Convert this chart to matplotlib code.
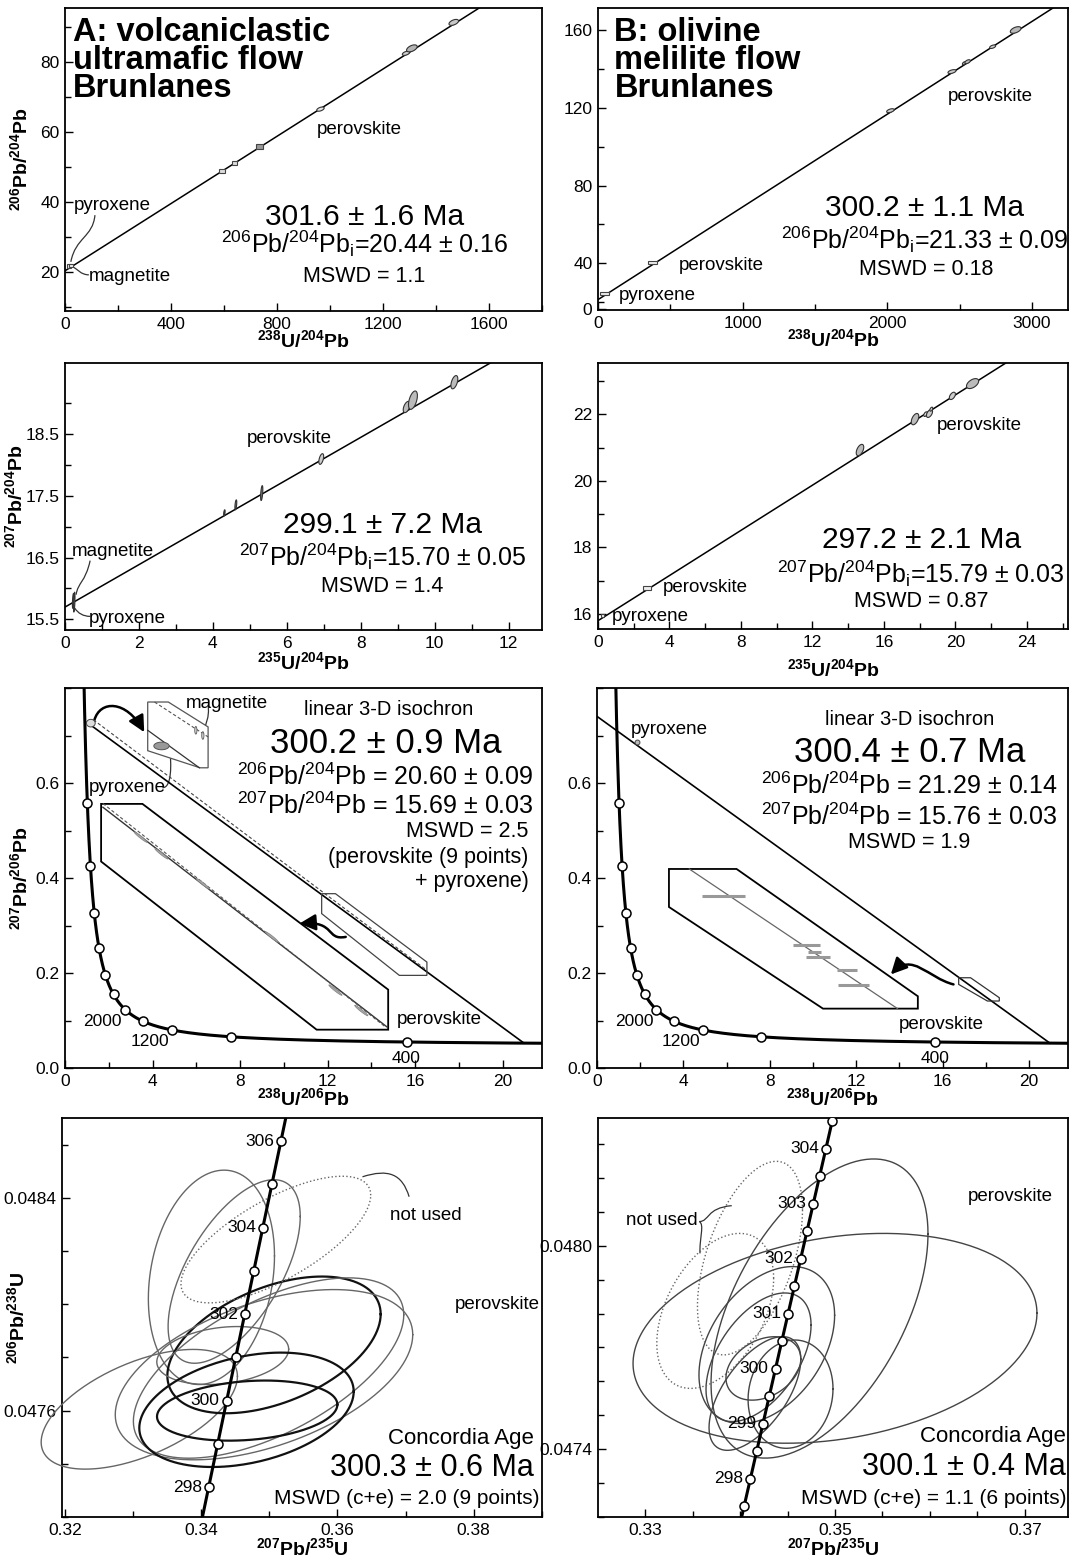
import numpy as np
import matplotlib.pyplot as plt
from matplotlib.patches import Rectangle, PathPatch, FancyArrowPatch, Polygon
from matplotlib.path import Path
from matplotlib.ticker import MultipleLocator, FixedLocator, FormatStrFormatter

plt.rcParams['font.family'] = 'Liberation Sans'
plt.rcParams['mathtext.fontset'] = 'custom'
plt.rcParams['mathtext.rm'] = 'Liberation Sans'
plt.rcParams['mathtext.it'] = 'Liberation Sans:italic'
plt.rcParams['mathtext.bf'] = 'Liberation Sans:bold'
plt.rcParams['mathtext.default'] = 'regular'

# decay constants (1/Ma) and 238U/235U
L238 = 1.55125e-4
L235 = 9.8485e-4
U_RATIO = 137.88

# ---------------- row 1: 206Pb/204Pb vs 238U/204Pb ----------------
a1_age, a1_pb0 = 301.6, 20.44
a1_x = [16, 22, 593, 639, 735, 964, 1287, 1309, 1467]
a1_y = [21.8, 22.0, 49.0, 51.2, 55.8, 66.5, 82.4, 83.8, 91.2]
a1_sx = [8, 8, 10, 10, 13, 14, 14, 20, 18]
a1_sy = [0.45, 0.45, 0.57, 0.57, 0.66, 0.6, 0.6, 1.0, 0.85]
a1_kind = ['box', 'box', 'box', 'box', 'box', 'ell', 'ell', 'ell', 'ell']
a1_fill = ['#eeeeee', '#eeeeee', '#dddddd', '#dddddd', '#999999', '#e4e4e4', '#d0d0d0', '#b4b4b4', '#c8c8c8']

b1_age, b1_pb0 = 300.2, 21.33
b1_x = [44, 377, 2022, 2448, 2532, 2556, 2729, 2888]
b1_y = [24.6, 40.5, 118.5, 138.6, 142.9, 143.7, 151.4, 160.0]
b1_sx = [30, 28, 26, 28, 12, 19, 21, 37]
b1_sy = [0.9, 0.9, 1.0, 1.0, 0.8, 1.0, 0.9, 1.7]
b1_kind = ['box', 'box', 'ell', 'ell', 'ell', 'ell', 'ell', 'ell']
b1_fill = ['#eeeeee', '#eeeeee', '#cccccc', '#cccccc', '#bbbbbb', '#bbbbbb', '#cccccc', '#b8b8b8']

# ---------------- row 2: 207Pb/204Pb vs 235U/204Pb ----------------
a2_age, a2_pb0 = 299.1, 15.70
a2_x = [0.22, 0.25, 4.31, 4.62, 5.32, 6.93, 9.24, 9.41, 10.53]
a2_y = [15.80, 15.78, 17.22, 17.35, 17.54, 18.09, 18.93, 19.04, 19.33]
a2_sx = [0.02, 0.02, 0.02, 0.025, 0.03, 0.065, 0.093, 0.12, 0.093]
a2_sy = [0.12, 0.16, 0.05, 0.08, 0.12, 0.086, 0.091, 0.148, 0.107]
a2_kind = ['ell'] * 9
a2_fill = ['#888888', '#888888', '#444444', '#777777', '#777777', '#cccccc', '#bbbbbb', '#bbbbbb', '#bbbbbb']

b2_age, b2_pb0 = 297.2, 15.79
b2_x = [0.25, 2.73, 14.66, 17.74, 18.33, 18.55, 18.65, 19.83, 20.96]
b2_y = [15.94, 16.77, 20.93, 21.86, 22.01, 22.03, 22.16, 22.56, 22.93]
b2_sx = [0.11, 0.23, 0.21, 0.21, 0.10, 0.17, 0.08, 0.17, 0.34]
b2_sy = [0.05, 0.06, 0.17, 0.17, 0.07, 0.12, 0.06, 0.11, 0.15]
b2_kind = ['box', 'box', 'ell', 'ell', 'ell', 'ell', 'ell', 'ell', 'ell']
b2_fill = ['#eeeeee', '#eeeeee', '#bbbbbb', '#bbbbbb', '#dddddd', '#cccccc', '#dddddd', '#cccccc', '#bbbbbb']

# ---------------- row 3: Tera-Wasserburg 3-D isochrons ----------------
tw_ages = [400, 800, 1200, 1600, 2000, 2400, 2800, 3200, 3600, 4000, 4400]
a3_age, a3_pb64, a3_pb74 = 300.2, 20.60, 15.69
b3_age, b3_pb64, b3_pb74 = 300.4, 21.29, 15.76

a3_pyx = (1.18, 0.726)
a3_dash_x, a3_dash_y = [1.3, 16.5], [0.733, 0.207]
a3_inset_x = [1.65, 3.54, 14.77, 14.77, 11.5, 1.65]
a3_inset_y = [0.556, 0.556, 0.165, 0.0807, 0.0807, 0.4347]
a3_inline_x, a3_inline_y = [1.73, 14.72], [0.549, 0.0863]
a3_indash_x, a3_indash_y = [1.73, 14.6], [0.557, 0.088]
a3_inpts_x = [3.46, 4.41, 6.3, 9.45, 12.36, 13.54]
a3_inpts_y = [0.486, 0.451, 0.388, 0.276, 0.164, 0.121]
a3_box_x = [11.73, 12.36, 16.54, 16.54, 15.28, 11.73]
a3_box_y = [0.367, 0.367, 0.223, 0.195, 0.195, 0.325]
a3_top_x = [3.78, 4.72, 6.54, 6.54, 6.17, 3.78]
a3_top_y = [0.7705, 0.7705, 0.718, 0.632, 0.632, 0.668]
a3_topline_x, a3_topline_y = [3.78, 6.14], [0.711, 0.632]
a3_topdash_x, a3_topdash_y = [4.09, 6.54], [0.7705, 0.697]
a3_pyx_big = (4.41, 0.678)
a3_mag_x, a3_mag_y = [5.98, 6.3], [0.711, 0.700]

b3_pyx = (1.84, 0.687)
b3_inset_x = [3.33, 6.46, 14.85, 14.85, 10.46, 3.33]
b3_inset_y = [0.419, 0.419, 0.151, 0.125, 0.125, 0.339]
b3_inline_x, b3_inline_y = [4.27, 13.91], [0.419, 0.125]
b3_bar_x = [5.84, 9.68, 10.07, 10.23, 11.56, 11.87]
b3_bar_y = [0.363, 0.258, 0.244, 0.234, 0.206, 0.174]
b3_bar_w = [1.0, 0.63, 0.3, 0.55, 0.47, 0.7]
b3_box_x = [16.74, 17.29, 18.62, 18.62, 18.07, 16.74]
b3_box_y = [0.190, 0.190, 0.148, 0.141, 0.141, 0.176]

# ---------------- row 4: Wetherill concordia ----------------
a4_ages = [297, 298, 299, 300, 301, 302, 303, 304, 305, 306, 307]
a4_lab = [298, 300, 302, 304, 306]
a4_cx = [0.34150, 0.34484, 0.33091, 0.35069, 0.34316, 0.34989, 0.34922, 0.34665, 0.34675]
a4_cy = [0.048101, 0.048123, 0.047605, 0.047847, 0.047807, 0.047760, 0.047735, 0.047603, 0.047600]
a4_sx = [0.00926, 0.0097, 0.01441, 0.01566, 0.00968, 0.01985, 0.02184, 0.01574, 0.01324]
a4_sy = [0.000403, 0.000345, 0.000225, 0.000257, 0.000109, 0.000339, 0.00032, 0.000215, 0.000113]
a4_rho = [0.2, 0.6, 0.55, 0.45, 0.22, 0.59, 0.47, 0.32, 0.2]
a4_dark = [False, False, False, True, False, False, False, True, True]
a4_nu = [(0.35096, 0.048243, 0.01393, 0.000238, 0.7)]

b4_ages = [297.5, 298, 298.5, 299, 299.5, 300, 300.5, 301, 301.5, 302, 302.5, 303, 303.5, 304, 304.5, 305]
b4_lab = [298, 299, 300, 301, 302, 303, 304]
b4_cx = [0.35, 0.34837, 0.34282, 0.34195, 0.34246, 0.34157, 0.34532]
b4_cy = [0.047727, 0.047815, 0.047707, 0.047671, 0.047638, 0.047564, 0.047562]
b4_sx = [0.02126, 0.01142, 0.00714, 0.00553, 0.00394, 0.00483, 0.00447]
b4_sy = [0.000310, 0.000442, 0.000232, 0.000190, 0.0000937, 0.000168, 0.00016]
b4_rho = [0.24, 0.5, 0.38, 0.5, 0.3, 0.6, 0.1]
b4_nu = [(0.34105, 0.047964, 0.00553, 0.000286, 0.5),
         (0.33739, 0.047808, 0.00615, 0.000229, 0.42)]


def ell_pts(cx, cy, sx, sy, rho):
    t = np.linspace(0, 2 * np.pi, 241)
    return cx + sx * np.cos(t), cy + sy * (rho * np.cos(t) + np.sqrt(1 - rho ** 2) * np.sin(t))


def curve(ax, pts, lw=0.9, color='#333333', arrow=False):
    codes = [Path.MOVETO, Path.CURVE4, Path.CURVE4, Path.CURVE4]
    p = Path(pts, codes)
    if arrow:
        ax.add_patch(FancyArrowPatch(path=p, arrowstyle='-|>,head_length=0.7,head_width=0.35',
                                     mutation_scale=14, lw=1.8, color='k', clip_on=False))
    else:
        ax.add_patch(PathPatch(p, fc='none', ec=color, lw=lw, clip_on=False))


def style(ax):
    for s in ax.spines.values():
        s.set_linewidth(1.3)
    ax.tick_params(which='both', direction='in', top=False, right=False,
                   labelsize=12.5, width=1, pad=4)
    ax.tick_params(which='major', length=6)
    ax.tick_params(which='minor', length=4)


def isochron(ax, xs, ys, sxs, sys_, kinds, fills, pb0, slope, xmax):
    xx = np.array([0, xmax])
    ax.plot(xx, pb0 + slope * xx, color='k', lw=1.1, zorder=2)
    for x, y, sx, sy, k, f in zip(xs, ys, sxs, sys_, kinds, fills):
        if k == 'box':
            ax.add_patch(Rectangle((x - sx, y - sy), 2 * sx, 2 * sy, fc=f, ec='#444444', lw=0.8, zorder=3))
        else:
            ex, ey = ell_pts(x, y, sx, sy, 0.5)
            ax.fill(ex, ey, fc=f, ec='#333333', lw=0.8, zorder=3)


def tw(t):
    t = np.asarray(t, dtype=float)
    e8 = np.exp(L238 * t) - 1
    return 1 / e8, (np.exp(L235 * t) - 1) / e8 / U_RATIO


def weth(t):
    t = np.asarray(t, dtype=float)
    return np.exp(L235 * t) - 1, np.exp(L238 * t) - 1


fig = plt.figure(figsize=(10.71, 15.6), dpi=100)
W, H = 1071.0, 1560.0


def add_ax(l, r, t, b):
    return fig.add_axes([l / W, 1 - b / H, (r - l) / W, (b - t) / H])


axA1 = add_ax(65, 542, 8, 311)
axB1 = add_ax(598, 1068, 8, 310)
axA2 = add_ax(65, 542, 363, 630)
axB2 = add_ax(598, 1068, 363, 629)
axA3 = add_ax(65, 542, 688, 1068)
axB3 = add_ax(597, 1068, 688, 1068)
axA4 = add_ax(62, 542, 1118, 1517)
axB4 = add_ax(598, 1068, 1118, 1517)

big_age = 21.5
iso_fs = 18
mswd_fs = 15.5
lab_fs = 13.5
axlab_fs = 14
title_fs = 23.5

# ---------------- A1 ----------------
ax = axA1
style(ax)
isochron(ax, a1_x, a1_y, a1_sx, a1_sy, a1_kind, a1_fill, a1_pb0, np.exp(L238 * a1_age) - 1, 1800)
ax.set_xlim(0, 1800)
ax.set_ylim(9, 95.3)
ax.xaxis.set_major_locator(FixedLocator([0, 400, 800, 1200, 1600]))
ax.xaxis.set_minor_locator(MultipleLocator(200))
ax.yaxis.set_major_locator(FixedLocator([20, 40, 60, 80]))
ax.yaxis.set_minor_locator(MultipleLocator(10))
ax.text(0.016, 0.97, 'A: volcaniclastic\nultramafic flow\nBrunlanes', transform=ax.transAxes,
        ha='left', va='top', fontsize=title_fs, fontweight='bold', linespacing=0.88)
ax.text(1130, 35.7, '301.6 ± 1.6 Ma', ha='center', va='center', fontsize=big_age)
ax.text(1133, 28.2, r'$^{206}$Pb/$^{204}$Pb$_{\mathrm{i}}$=20.44 ± 0.16', ha='center', va='center', fontsize=iso_fs)
ax.text(1128, 18.9, 'MSWD = 1.1', ha='center', va='center', fontsize=mswd_fs)
ax.text(1111, 60.6, 'perovskite', ha='center', va='center', fontsize=lab_fs)
ax.text(180, 39, 'pyroxene', ha='center', va='center', fontsize=lab_fs)
ax.text(244, 18.9, 'magnetite', ha='center', va='center', fontsize=lab_fs)
curve(ax, [(113, 36.3), (105, 30), (40, 30), (22, 23)])
curve(ax, [(90, 19.3), (60, 19.3), (45, 21), (30, 21.6)])
ax.set_xlabel(r'$\mathbf{^{238}U/^{204}Pb}$', fontsize=axlab_fs, va='center')
ax.xaxis.set_label_coords(0.5, -0.097)
ax.set_ylabel(r'$\mathbf{^{206}Pb/^{204}Pb}$', fontsize=axlab_fs, va='center')
ax.yaxis.set_label_coords(-0.095, 0.5)

# ---------------- B1 ----------------
ax = axB1
style(ax)
isochron(ax, b1_x, b1_y, b1_sx, b1_sy, b1_kind, b1_fill, b1_pb0, np.exp(L238 * b1_age) - 1, 3250)
ax.set_xlim(0, 3250)
ax.set_ylim(16, 171.3)
ax.xaxis.set_major_locator(FixedLocator([0, 1000, 2000, 3000]))
ax.xaxis.set_minor_locator(MultipleLocator(500))
ax.set_yticks([16.6, 40, 80, 120, 160])
ax.set_yticklabels(['0', '40', '80', '120', '160'])
ax.yaxis.set_minor_locator(FixedLocator([20, 60, 100, 140]))
ax.text(0.035, 0.97, 'B: olivine\nmelilite flow\nBrunlanes', transform=ax.transAxes,
        ha='left', va='top', fontsize=title_fs, fontweight='bold', linespacing=0.88)
ax.text(2256, 68.3, '300.2 ± 1.1 Ma', ha='center', va='center', fontsize=big_age)
ax.text(2256, 52, r'$^{206}$Pb/$^{204}$Pb$_{\mathrm{i}}$=21.33 ± 0.09', ha='center', va='center', fontsize=iso_fs)
ax.text(2268, 36.6, 'MSWD = 0.18', ha='center', va='center', fontsize=mswd_fs)
ax.text(2712, 125.7, 'perovskite', ha='center', va='center', fontsize=lab_fs)
ax.text(852, 39.1, 'perovskite', ha='center', va='center', fontsize=lab_fs)
ax.text(407, 23.7, 'pyroxene', ha='center', va='center', fontsize=lab_fs)
ax.set_xlabel(r'$\mathbf{^{238}U/^{204}Pb}$', fontsize=axlab_fs, va='center')
ax.xaxis.set_label_coords(0.5, -0.097)

# ---------------- A2 ----------------
ax = axA2
style(ax)
isochron(ax, a2_x, a2_y, a2_sx, a2_sy, a2_kind, a2_fill, a2_pb0, np.exp(L235 * a2_age) - 1, 12.9)
ax.set_xlim(0, 12.9)
ax.set_ylim(15.33, 19.64)
ax.xaxis.set_major_locator(FixedLocator([0, 2, 4, 6, 8, 10, 12]))
ax.xaxis.set_minor_locator(MultipleLocator(1))
ax.yaxis.set_major_locator(FixedLocator([15.5, 16.5, 17.5, 18.5]))
ax.yaxis.set_minor_locator(FixedLocator([16, 17, 18, 19]))
ax.text(8.59, 17.02, '299.1 ± 7.2 Ma', ha='center', va='center', fontsize=big_age)
ax.text(8.59, 16.51, r'$^{207}$Pb/$^{204}$Pb$_{\mathrm{i}}$=15.70 ± 0.05', ha='center', va='center', fontsize=iso_fs)
ax.text(8.59, 16.03, 'MSWD = 1.4', ha='center', va='center', fontsize=mswd_fs)
ax.text(6.07, 18.42, 'perovskite', ha='center', va='center', fontsize=lab_fs)
ax.text(1.29, 16.59, 'magnetite', ha='center', va='center', fontsize=lab_fs)
ax.text(1.68, 15.52, 'pyroxene', ha='center', va='center', fontsize=lab_fs)
curve(ax, [(0.68, 16.45), (0.55, 16.1), (0.35, 16.1), (0.3, 15.9)])
curve(ax, [(0.68, 15.55), (0.5, 15.55), (0.35, 15.6), (0.27, 15.68)])
ax.set_xlabel(r'$\mathbf{^{235}U/^{204}Pb}$', fontsize=axlab_fs, va='center')
ax.xaxis.set_label_coords(0.5, -0.12)
ax.set_ylabel(r'$\mathbf{^{207}Pb/^{204}Pb}$', fontsize=axlab_fs, va='center')
ax.yaxis.set_label_coords(-0.105, 0.5)

# ---------------- B2 ----------------
ax = axB2
style(ax)
isochron(ax, b2_x, b2_y, b2_sx, b2_sy, b2_kind, b2_fill, b2_pb0, np.exp(L235 * b2_age) - 1, 26.3)
ax.set_xlim(0, 26.3)
ax.set_ylim(15.54, 23.55)
ax.xaxis.set_major_locator(FixedLocator([0, 4, 8, 12, 16, 20, 24]))
ax.xaxis.set_minor_locator(MultipleLocator(2))
ax.yaxis.set_major_locator(FixedLocator([16, 18, 20, 22]))
ax.yaxis.set_minor_locator(FixedLocator([17, 19, 21, 23]))
ax.text(18.08, 18.22, '297.2 ± 2.1 Ma', ha='center', va='center', fontsize=big_age)
ax.text(18.08, 17.22, r'$^{207}$Pb/$^{204}$Pb$_{\mathrm{i}}$=15.79 ± 0.03', ha='center', va='center', fontsize=iso_fs)
ax.text(18.08, 16.37, 'MSWD = 0.87', ha='center', va='center', fontsize=mswd_fs)
ax.text(21.36, 21.68, 'perovskite', ha='center', va='center', fontsize=lab_fs)
ax.text(6.0, 16.8, 'perovskite', ha='center', va='center', fontsize=lab_fs)
ax.text(2.9, 15.92, 'pyroxene', ha='center', va='center', fontsize=lab_fs)
ax.set_xlabel(r'$\mathbf{^{235}U/^{204}Pb}$', fontsize=axlab_fs, va='center')
ax.xaxis.set_label_coords(0.5, -0.15)


# ---------------- row 3 common ----------------
def tw_frame(ax):
    style(ax)
    tt = np.linspace(200, 5200, 600)
    cx, cy = tw(tt)
    ax.plot(cx, cy, color='k', lw=2.2, zorder=4)
    mx, my = tw(tw_ages)
    ax.plot(mx, my, 'o', ms=6.5, mfc='white', mec='k', mew=1.1, zorder=5)
    ax.set_xlim(0, 21.8)
    ax.set_ylim(0, 0.8)
    ax.xaxis.set_major_locator(FixedLocator([0, 4, 8, 12, 16, 20]))
    ax.xaxis.set_minor_locator(MultipleLocator(2))
    ax.yaxis.set_major_locator(FixedLocator([0, 0.2, 0.4, 0.6]))
    ax.yaxis.set_minor_locator(MultipleLocator(0.1))
    ax.yaxis.set_major_formatter(FormatStrFormatter('%.1f'))
    ax.set_xlabel(r'$\mathbf{^{238}U/^{206}Pb}$', fontsize=axlab_fs, va='center')
    ax.xaxis.set_label_coords(0.5, -0.08)


# ---------------- A3 ----------------
ax = axA3
tw_frame(ax)
x300, y300 = tw(a3_age)
a0 = a3_pb74 / a3_pb64
ax.plot([1.0, x300], [a0 + (y300 - a0) / x300 * 1.0, y300], color='k', lw=1.2, zorder=3)
ax.plot(a3_dash_x, a3_dash_y, color='#444444', lw=0.8, ls=(0, (3, 2)), zorder=3)
ax.add_patch(Polygon(np.column_stack([a3_inset_x, a3_inset_y]), closed=True, fc='white', ec='k', lw=1.3, zorder=6))
ax.plot(a3_inline_x, a3_inline_y, color='#333333', lw=1.0, zorder=7)
ax.plot(a3_indash_x, a3_indash_y, color='#555555', lw=0.8, ls=(0, (3, 2)), zorder=7)
for x, y in zip(a3_inpts_x, a3_inpts_y):
    ex, ey = ell_pts(x, y, 0.3, 0.011, -0.97)
    ax.fill(ex, ey, fc='#aaaaaa', ec='#888888', lw=0.6, zorder=8)
ax.add_patch(Polygon(np.column_stack([a3_box_x, a3_box_y]), closed=True, fc='none', ec='#444444', lw=0.9, zorder=6))
ax.add_patch(Polygon(np.column_stack([a3_top_x, a3_top_y]), closed=True, fc='white', ec='#555555', lw=0.9, zorder=6))
ax.plot(a3_topline_x, a3_topline_y, color='#333333', lw=0.9, zorder=7)
ax.plot(a3_topdash_x, a3_topdash_y, color='#555555', lw=0.8, ls=(0, (3, 2)), zorder=7)
ex, ey = ell_pts(a3_pyx_big[0], a3_pyx_big[1], 0.35, 0.008, 0.0)
ax.fill(ex, ey, fc='#999999', ec='#555555', lw=0.7, zorder=8)
for x, y in zip(a3_mag_x, a3_mag_y):
    ex, ey = ell_pts(x, y, 0.05, 0.008, 0.0)
    ax.fill(ex, ey, fc='#dddddd', ec='#555555', lw=0.6, zorder=8)
ex, ey = ell_pts(a3_pyx[0], a3_pyx[1], 0.2, 0.008, 0.0)
ax.fill(ex, ey, fc='#dddddd', ec='#444444', lw=0.7, zorder=8)
curve(ax, [(1.34, 0.732), (1.6, 0.775), (2.8, 0.775), (3.62, 0.707)], arrow=True)
curve(ax, [(12.83, 0.276), (11.9, 0.268), (12.4, 0.31), (10.71, 0.304)], arrow=True)
curve(ax, [(6.54, 0.762), (6.62, 0.74), (6.4, 0.72), (6.33, 0.707)])
curve(ax, [(4.45, 0.59), (4.9, 0.59), (4.85, 0.64), (4.8, 0.67)])
ax.text(7.4, 0.768, 'magnetite', ha='center', va='center', fontsize=lab_fs)
ax.text(2.83, 0.590, 'pyroxene', ha='center', va='center', fontsize=lab_fs)
ax.text(17.1, 0.102, 'perovskite', ha='center', va='center', fontsize=lab_fs)
ax.text(1.73, 0.097, '2000', ha='center', va='center', fontsize=12.5)
ax.text(3.86, 0.055, '1200', ha='center', va='center', fontsize=12.5)
ax.text(15.6, 0.020, '400', ha='center', va='center', fontsize=12.5)
ax.text(14.8, 0.754, 'linear 3-D isochron', ha='center', va='center', fontsize=14.5)
ax.text(14.65, 0.683, '300.2 ± 0.9 Ma', ha='center', va='center', fontsize=25)
ax.text(14.65, 0.613, r'$^{206}$Pb/$^{204}$Pb = 20.60 ± 0.09', ha='center', va='center', fontsize=iso_fs)
ax.text(14.65, 0.553, r'$^{207}$Pb/$^{204}$Pb = 15.69 ± 0.03', ha='center', va='center', fontsize=iso_fs)
ax.text(21.2, 0.497, 'MSWD = 2.5', ha='right', va='center', fontsize=mswd_fs)
ax.text(21.2, 0.444, '(perovskite (9 points)', ha='right', va='center', fontsize=mswd_fs)
ax.text(21.2, 0.392, '+ pyroxene)', ha='right', va='center', fontsize=mswd_fs)
ax.set_ylabel(r'$\mathbf{^{207}Pb/^{206}Pb}$', fontsize=axlab_fs, va='center')
ax.yaxis.set_label_coords(-0.095, 0.5)

# ---------------- B3 ----------------
ax = axB3
tw_frame(ax)
x300, y300 = tw(b3_age)
b0 = b3_pb74 / b3_pb64
ax.plot([0, x300], [b0, y300], color='k', lw=1.2, zorder=3)
ax.add_patch(Polygon(np.column_stack([b3_inset_x, b3_inset_y]), closed=True, fc='white', ec='k', lw=1.3, zorder=6))
ax.plot(b3_inline_x, b3_inline_y, color='#666666', lw=0.9, zorder=7)
ax.hlines(b3_bar_y, np.array(b3_bar_x) - np.array(b3_bar_w), np.array(b3_bar_x) + np.array(b3_bar_w),
          color='#999999', lw=2.2, zorder=8)
ax.add_patch(Polygon(np.column_stack([b3_box_x, b3_box_y]), closed=True, fc='none', ec='#333333', lw=0.9, zorder=6))
ax.plot([b3_pyx[0]], [b3_pyx[1]], 'o', ms=3.5, mfc='#bbbbbb', mec='#444444', mew=0.7, zorder=8)
curve(ax, [(16.5, 0.176), (15.3, 0.19), (14.6, 0.245), (13.6, 0.197)], arrow=True)
ax.text(3.33, 0.713, 'pyroxene', ha='center', va='center', fontsize=lab_fs)
ax.text(15.95, 0.0915, 'perovskite', ha='center', va='center', fontsize=lab_fs)
ax.text(1.73, 0.0986, '2000', ha='center', va='center', fontsize=12.5)
ax.text(3.87, 0.056, '1200', ha='center', va='center', fontsize=12.5)
ax.text(15.64, 0.021, '400', ha='center', va='center', fontsize=12.5)
ax.text(14.46, 0.734, 'linear 3-D isochron', ha='center', va='center', fontsize=14.5)
ax.text(14.46, 0.665, '300.4 ± 0.7 Ma', ha='center', va='center', fontsize=25)
ax.text(14.46, 0.595, r'$^{206}$Pb/$^{204}$Pb = 21.29 ± 0.14', ha='center', va='center', fontsize=iso_fs)
ax.text(14.46, 0.528, r'$^{207}$Pb/$^{204}$Pb = 15.76 ± 0.03', ha='center', va='center', fontsize=iso_fs)
ax.text(14.46, 0.475, 'MSWD = 1.9', ha='center', va='center', fontsize=mswd_fs)


# ---------------- row 4 common ----------------
def weth_frame(ax, t0, t1, ages, labs):
    style(ax)
    tt = np.linspace(t0, t1, 200)
    cx, cy = weth(tt)
    ax.plot(cx, cy, color='k', lw=2.2, zorder=6)
    mx, my = weth(ages)
    ax.plot(mx, my, 'o', ms=6.5, mfc='white', mec='k', mew=1.1, zorder=7)
    lx, ly = weth(labs)
    for a, x, y in zip(labs, lx, ly):
        ax.annotate(str(a), (x, y), xytext=(-5, 0), textcoords='offset points',
                    ha='right', va='center', fontsize=12.5, zorder=8)
    ax.set_xlabel(r'$\mathbf{^{207}Pb/^{235}U}$', fontsize=axlab_fs, va='center')
    ax.xaxis.set_label_coords(0.5, -0.078)


# ---------------- A4 ----------------
ax = axA4
for cx, cy, sx, sy, r, dk in zip(a4_cx, a4_cy, a4_sx, a4_sy, a4_rho, a4_dark):
    ex, ey = ell_pts(cx, cy, sx, sy, r)
    ax.plot(ex, ey, color='#111111' if dk else '#666666', lw=1.6 if dk else 1.0, zorder=3, clip_on=False)
for cx, cy, sx, sy, r in a4_nu:
    ex, ey = ell_pts(cx, cy, sx, sy, r)
    ax.plot(ex, ey, color='#666666', lw=1.0, ls=':', zorder=3)
weth_frame(ax, 290, 312, a4_ages, a4_lab)
ax.set_xlim(0.31956, 0.39004)
ax.set_ylim(0.04720, 0.04870)
ax.xaxis.set_major_locator(FixedLocator([0.32, 0.34, 0.36, 0.38]))
ax.xaxis.set_minor_locator(FixedLocator([0.33, 0.35, 0.37, 0.39]))
ax.xaxis.set_major_formatter(FormatStrFormatter('%.2f'))
ax.yaxis.set_major_locator(FixedLocator([0.0476, 0.0484]))
ax.yaxis.set_minor_locator(FixedLocator([0.0472, 0.0474, 0.0478, 0.0480, 0.0482, 0.0486]))
ax.yaxis.set_major_formatter(FormatStrFormatter('%.4f'))
curve(ax, [(0.37053, 0.048404), (0.3695, 0.04849), (0.3675, 0.04851), (0.36368, 0.048479)])
ax.text(0.37299, 0.048335, 'not used', ha='center', va='center', fontsize=lab_fs)
ax.text(0.38353, 0.047997, 'perovskite', ha='center', va='center', fontsize=lab_fs)
ax.text(0.983, 0.197, 'Concordia Age', transform=ax.transAxes, ha='right', va='center', fontsize=16)
ax.text(0.983, 0.122, '300.3 ± 0.6 Ma', transform=ax.transAxes, ha='right', va='center', fontsize=22)
ax.text(0.994, 0.047, 'MSWD (c+e) = 2.0 (9 points)', transform=ax.transAxes, ha='right', va='center', fontsize=15)
ax.set_ylabel(r'$\mathbf{^{206}Pb/^{238}U}$', fontsize=axlab_fs, va='center')
ax.yaxis.set_label_coords(-0.093, 0.5)

# ---------------- B4 ----------------
ax = axB4
for cx, cy, sx, sy, r in zip(b4_cx, b4_cy, b4_sx, b4_sy, b4_rho):
    ex, ey = ell_pts(cx, cy, sx, sy, r)
    ax.plot(ex, ey, color='#444444', lw=1.0, zorder=3)
for cx, cy, sx, sy, r in b4_nu:
    ex, ey = ell_pts(cx, cy, sx, sy, r)
    ax.plot(ex, ey, color='#666666', lw=1.0, ls=':', zorder=3)
weth_frame(ax, 290, 312, b4_ages, b4_lab)
ax.set_xlim(0.32505, 0.37453)
ax.set_ylim(0.047199, 0.048378)
ax.xaxis.set_major_locator(FixedLocator([0.33, 0.35, 0.37]))
ax.xaxis.set_minor_locator(MultipleLocator(0.005))
ax.xaxis.set_major_formatter(FormatStrFormatter('%.2f'))
ax.yaxis.set_major_locator(FixedLocator([0.0474, 0.0480]))
ax.yaxis.set_minor_locator(MultipleLocator(0.0001))
ax.yaxis.set_major_formatter(FormatStrFormatter('%.4f'))
curve(ax, [(0.3357, 0.048072), (0.3368, 0.048072), (0.3364, 0.048112), (0.33913, 0.048119)])
curve(ax, [(0.3357, 0.048072), (0.3363, 0.048065), (0.3357, 0.04802), (0.33579, 0.047978)])
ax.text(0.33176, 0.048074, 'not used', ha='center', va='center', fontsize=lab_fs)
ax.text(0.36842, 0.048146, 'perovskite', ha='center', va='center', fontsize=lab_fs)
ax.text(0.996, 0.201, 'Concordia Age', transform=ax.transAxes, ha='right', va='center', fontsize=16)
ax.text(0.996, 0.126, '300.1 ± 0.4 Ma', transform=ax.transAxes, ha='right', va='center', fontsize=22)
ax.text(0.996, 0.047, 'MSWD (c+e) = 1.1 (6 points)', transform=ax.transAxes, ha='right', va='center', fontsize=15)

fig.savefig('out.png', dpi=100)
